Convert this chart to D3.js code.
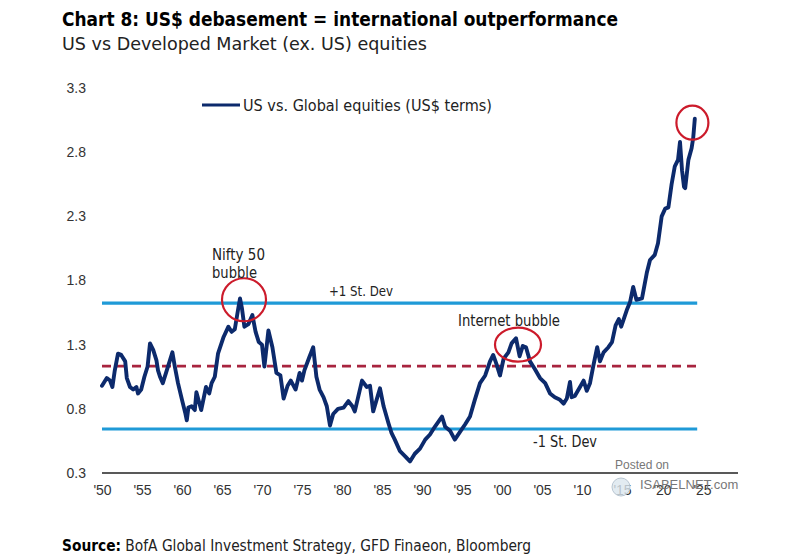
<!DOCTYPE html>
<html><head><meta charset="utf-8">
<script src="https://cdn.jsdelivr.net/npm/d3@7/dist/d3.min.js"></script>
<style>
html,body{margin:0;padding:0;background:#fff;}
svg{display:block;font-family:"Liberation Sans Narrow","DejaVu Sans Condensed",Roboto,sans-serif;}
</style></head>
<body><svg id="c" width="800" height="559"></svg>
<script>
// ---- data ----
const years = [1950.0,1950.6,1951.0,1951.3,1951.6,1952.0,1952.4,1952.9,1953.1,1953.5,1953.9,1954.3,1954.5,1954.9,1955.3,1955.7,1956.0,1956.4,1956.8,1957.0,1957.25,1957.6,1958.0,1958.5,1958.8,1959.1,1959.5,1960.0,1960.4,1960.6,1960.8,1961.2,1961.6,1961.8,1962.4,1963.0,1963.4,1963.7,1964.1,1964.5,1965.2,1965.8,1966.2,1966.6,1967.0,1967.25,1967.5,1967.8,1968.3,1968.8,1969.2,1969.6,1970.0,1970.3,1970.8,1971.3,1971.8,1972.3,1972.7,1973.2,1973.6,1974.2,1974.7,1975.0,1975.3,1975.9,1976.4,1976.8,1977.2,1977.7,1978.1,1978.5,1978.9,1979.5,1980.2,1980.8,1981.3,1981.6,1982.5,1983.1,1983.5,1983.9,1984.75,1985.2,1985.8,1986.2,1986.6,1987.25,1987.9,1988.5,1989.1,1989.75,1990.4,1991.0,1991.6,1992.5,1992.9,1993.5,1994.1,1994.75,1995.4,1996.0,1996.6,1997.25,1997.9,1998.5,1998.9,1999.3,1999.75,2000.2,2000.8,2001.2,2001.75,2002.2,2002.6,2003.0,2003.5,2004.1,2004.75,2005.4,2006.0,2006.6,2007.25,2007.7,2008.1,2008.5,2008.7,2009.1,2009.75,2010.2,2010.6,2011.0,2011.4,2011.9,2012.25,2012.7,2013.3,2013.75,2014.2,2014.6,2014.9,2015.6,2016.0,2016.4,2016.8,2017.5,2018.1,2018.5,2019.1,2019.5,2019.96,2020.4,2020.8,2021.2,2021.6,2022.0,2022.25,2022.5,2022.75,2022.9,2023.3,2023.7,2023.9,2024.1];
const values = [0.98,1.04,1.02,0.97,1.10,1.23,1.22,1.17,1.04,0.97,0.95,0.97,0.92,0.95,1.05,1.13,1.31,1.26,1.18,1.10,1.05,1.00,1.08,1.18,1.24,1.13,1.00,0.87,0.77,0.71,0.81,0.82,0.79,0.93,0.79,0.97,0.92,1.00,1.05,1.23,1.36,1.44,1.40,1.42,1.57,1.66,1.58,1.44,1.46,1.53,1.40,1.32,1.30,1.13,1.41,1.28,1.08,1.06,0.88,0.98,1.02,0.95,1.08,1.02,1.10,1.20,1.28,1.05,0.95,0.89,0.82,0.67,0.76,0.80,0.81,0.86,0.82,0.78,1.02,0.97,0.98,0.78,0.96,0.82,0.69,0.61,0.56,0.47,0.43,0.39,0.45,0.49,0.56,0.60,0.66,0.74,0.66,0.63,0.56,0.62,0.68,0.74,0.87,1.00,1.06,1.17,1.22,1.15,1.06,1.19,1.24,1.31,1.35,1.21,1.29,1.28,1.17,1.11,1.04,1.00,0.92,0.89,0.87,0.84,0.88,1.01,0.89,0.90,0.97,1.02,0.94,1.00,1.13,1.28,1.17,1.24,1.28,1.32,1.45,1.50,1.44,1.57,1.63,1.75,1.65,1.66,1.86,1.96,2.00,2.09,2.30,2.36,2.37,2.55,2.69,2.74,2.88,2.66,2.53,2.52,2.74,2.83,2.91,3.06];
const yTicks = [0.3,0.8,1.3,1.8,2.3,2.8,3.3];
const xTickYears = [1950,1955,1960,1965,1970,1975,1980,1985,1990,1995,2000,2005,2010,2015,2020,2025];
const xTickLabels = ["'50","'55","'60","'65","'70","'75","'80","'85","'90","'95","'00","'05","'10","'15","'20","'25"];
const meanLevel = 1.133;
const plusSD = 1.624;
const minusSD = 0.643;
const seriesName = "US vs. Global equities (US$ terms)";

// ---- layout ----
const svg = d3.select("#c");
const L = 102, R = 738, T = 88, B = 473;
const x = d3.scaleLinear().domain([1950, 2029.5]).range([L, R]);
const y = d3.scaleLinear().domain([0.3, 3.3]).range([B, T]);
const data = years.map((yr,i)=>({yr, v: values[i]}));
const lineEnd = years[years.length-1] + 0.3;

// titles
svg.append("text").attr("x",62).attr("y",26).attr("font-size",20).attr("font-weight","bold")
  .attr("fill","#000").attr("textLength",556).attr("lengthAdjust","spacingAndGlyphs")
  .text("Chart 8: US$ debasement = international outperformance");
svg.append("text").attr("x",62).attr("y",50).attr("font-size",18).attr("fill","#222")
  .attr("textLength",365).attr("lengthAdjust","spacingAndGlyphs")
  .text("US vs Developed Market (ex. US) equities");

// y axis labels
const yAxis = d3.axisLeft(y).tickValues(yTicks).tickSize(0).tickPadding(0).tickFormat(d3.format(".1f"));
const gy = svg.append("g").attr("transform",`translate(86,0)`).call(yAxis);
gy.select(".domain").remove();
gy.selectAll("text").attr("font-size",14).attr("fill","#333").attr("font-family","inherit");

// x axis labels
const xAxis = d3.axisBottom(x).tickValues(xTickYears).tickSize(0).tickPadding(0)
  .tickFormat((d,i)=>xTickLabels[i]);
const gx = svg.append("g").attr("transform",`translate(0,${B+12})`).call(xAxis);
gx.select(".domain").remove();
gx.selectAll("text").attr("font-size",14).attr("fill","#333").attr("font-family","inherit");

// baseline
svg.append("line").attr("x1",L).attr("x2",R).attr("y1",y(0.3)).attr("y2",y(0.3))
  .attr("stroke","#222").attr("stroke-width",1.6);

// reference lines
[plusSD, minusSD].forEach(v=>{
  svg.append("line").attr("x1",x(1950)).attr("x2",x(lineEnd)).attr("y1",y(v)).attr("y2",y(v))
    .attr("stroke","#1f9ad7").attr("stroke-width",3.2);
});
svg.append("line").attr("x1",x(1950)).attr("x2",x(lineEnd)).attr("y1",y(meanLevel)).attr("y2",y(meanLevel))
  .attr("stroke","#a8243f").attr("stroke-width",2.8).attr("stroke-dasharray","9,6");

// series
svg.append("path").datum(data)
  .attr("d", d3.line().x(d=>x(d.yr)).y(d=>y(d.v)))
  .attr("fill","none").attr("stroke","#0c2a6c").attr("stroke-width",3.9)
  .attr("stroke-linejoin","round").attr("stroke-linecap","round");

// circles
const circ = (cx,cy,rx,ry)=>svg.append("ellipse").attr("cx",cx).attr("cy",cy).attr("rx",rx).attr("ry",ry)
  .attr("fill","none").attr("stroke","#cc1b2b").attr("stroke-width",2.2);
circ(x(1967.75), y(1.65), 22, 21.5);
circ(x(2002.0), y(1.30), 23, 17);
circ(x(2023.8), y(3.03), 16, 17);

// annotations
const ann = (tx,ty,txt,size,w)=>{const t=svg.append("text").attr("x",tx).attr("y",ty).attr("font-size",size).attr("fill","#222").text(txt);
  if(w) t.attr("textLength",w).attr("lengthAdjust","spacingAndGlyphs"); return t;};
ann(212,260,"Nifty 50",15,53);
ann(212,278,"bubble",15,45);
ann(329,296,"+1 St. Dev",14,64);
ann(458,326,"Internet bubble",15,102);
ann(533,447,"-1 St. Dev",15,64);

// legend
svg.append("line").attr("x1",202).attr("x2",240).attr("y1",105).attr("y2",105)
  .attr("stroke","#0c2a6c").attr("stroke-width",3.2);
ann(243,111,seriesName,15,249);

// watermark
svg.append("text").attr("x",615).attr("y",469).attr("font-size",12).attr("fill","#777")
  .attr("font-family","Liberation Sans, Arial, sans-serif").text("Posted on");
svg.append("circle").attr("cx",621).attr("cy",487).attr("r",9).attr("fill","#dbe6ee").attr("fill-opacity",0.8).attr("stroke","#b8c6d2");
svg.append("text").attr("x",640).attr("y",489).attr("font-size",13).attr("fill","#777")
  .attr("font-family","Liberation Sans, Arial, sans-serif").text("ISABELNET.com");

// source
const src = svg.append("text").attr("x",62).attr("y",551).attr("font-size",16).attr("fill","#222")
  .attr("textLength",469).attr("lengthAdjust","spacingAndGlyphs");
src.append("tspan").attr("font-weight","bold").attr("fill","#000").text("Source:");
src.append("tspan").text(" BofA Global Investment Strategy, GFD Finaeon,  Bloomberg");
</script></body></html>
